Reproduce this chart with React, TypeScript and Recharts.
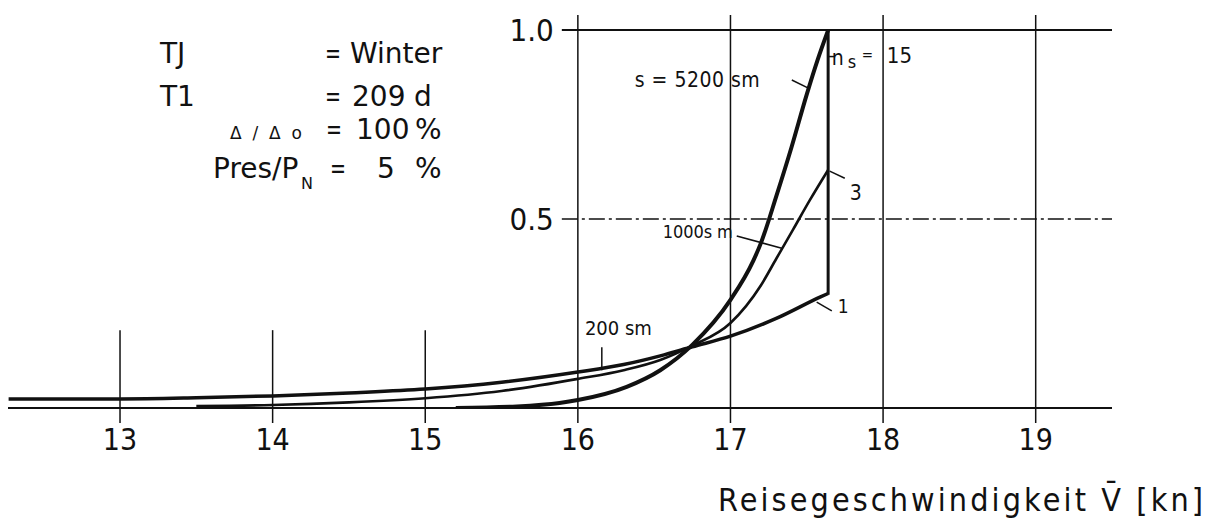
import React from 'react';
import { LineChart, Line, XAxis, YAxis, ReferenceLine, ReferenceDot } from 'recharts';

const FONT = "'Liberation Sans Narrow', 'DejaVu Sans Condensed', 'Arial Narrow', sans-serif";
const INFO_FONT = "'DejaVu Sans', sans-serif";
const INK = '#111';

// axis ticks / grid
const xTicks = [13, 14, 15, 16, 17, 18, 19];
const fullGridX = [16, 17, 18, 19];
const shortGridX = [13, 14, 15];
const yTicks = [1.0, 0.5];
const yTickLabels = ['1.0', '0.5'];

// s = 200 sm (n_s = 1)
const s200X = [12.27, 13, 13.5, 14, 14.5, 15, 15.5, 16, 16.3, 16.54, 16.75, 17, 17.3, 17.59, 17.64];
const s200Y = [0.024, 0.024, 0.027, 0.032, 0.04, 0.05, 0.068, 0.095, 0.115, 0.138, 0.162, 0.19, 0.237, 0.294, 0.303];

// s = 1000 sm (n_s = 3)
const s1000X = [13.5, 14, 14.5, 15, 15.5, 16, 16.3, 16.54, 16.75, 17, 17.2, 17.3, 17.41, 17.52, 17.64];
const s1000Y = [0.005, 0.008, 0.015, 0.026, 0.045, 0.077, 0.1, 0.127, 0.165, 0.225, 0.325, 0.395, 0.472, 0.55, 0.63];

// s = 5200 sm (n_s = 15)
const s5200X = [15.2, 15.6, 15.88, 16, 16.32, 16.54, 16.75, 17, 17.15, 17.2, 17.3, 17.4, 17.5, 17.57, 17.64];
const s5200Y = [0.0, 0.004, 0.013, 0.021, 0.056, 0.1, 0.167, 0.286, 0.39, 0.437, 0.56, 0.69, 0.83, 0.92, 1.0];

// vertical limit line at max speed
const limitX = [17.64, 17.64];
const limitY = [0.3, 1.0];

const toData = (xs: number[], ys: number[]) => xs.map((x, i) => ({ x, y: ys[i] }));

// leader lines [x1, y1, x2, y2]
const leaders: number[][] = [
  [17.402, 0.868, 17.507, 0.847],
  [17.645, 0.93, 17.68, 0.93],
  [17.65, 0.627, 17.749, 0.608],
  [17.041, 0.455, 17.336, 0.423],
  [16.157, 0.161, 16.157, 0.1],
  [17.565, 0.28, 17.664, 0.257],
];

// curve annotations
const annotations = [
  { x: 16.373, y: 0.849, text: 's = 5200 sm', size: 21, width: 125 },
  { x: 17.782, y: 0.55, text: '3', size: 21, width: 0 },
  { x: 16.557, y: 0.45, text: '1000s m', size: 18, width: 70 },
  { x: 16.046, y: 0.193, text: '200 sm', size: 20, width: 67 },
  { x: 17.703, y: 0.252, text: '1', size: 19, width: 0 },
];
const nsLabel = { x: 17.664, y: 0.907 };

const AnnoShape = (a: any) => (p: any) => (
  <text
    x={p.cx}
    y={p.cy}
    fontFamily={FONT}
    fontSize={a.size}
    fill={INK}
    {...(a.width ? { textLength: a.width, lengthAdjust: 'spacing' } : {})}
  >
    {a.text}
  </text>
);

const NsShape = (p: any) => (
  <g fontFamily={FONT} fill={INK}>
    <text x={p.cx} y={p.cy} fontSize={21}>n</text>
    <text x={p.cx + 16} y={p.cy + 3} fontSize={18}>s</text>
    <text x={p.cx + 30} y={p.cy - 5} fontSize={15}>=</text>
    <text x={p.cx + 55} y={p.cy - 2} fontSize={22}>15</text>
  </g>
);

export default function App() {
  return (
    <div style={{ position: 'absolute', left: 0, top: 0, width: 1209, height: 524, background: '#fff' }}>
      <LineChart width={1209} height={524} margin={{ top: 15, right: 97, bottom: 86, left: 8 }}>
        <XAxis
          dataKey="x"
          type="number"
          domain={[12.266, 19.5]}
          ticks={xTicks}
          allowDataOverflow
          height={30}
          axisLine={{ stroke: INK, strokeWidth: 2 }}
          tickLine={{ stroke: INK, strokeWidth: 1.5 }}
          tickSize={15}
          tickMargin={6}
          tick={{ fill: INK, fontSize: 30, fontFamily: FONT }}
        />
        <YAxis hide type="number" domain={[0, 1.04]} allowDataOverflow />

        {fullGridX.map((v) => (
          <ReferenceLine key={'fx' + v} x={v} stroke={INK} strokeWidth={1.5} />
        ))}
        {shortGridX.map((v) => (
          <ReferenceLine key={'sx' + v} segment={[{ x: v, y: 0 }, { x: v, y: 0.206 }]} stroke={INK} strokeWidth={1.5} />
        ))}
        {yTicks.map((v, i) => (
          <ReferenceLine
            key={'y' + v}
            segment={[{ x: 15.895, y: v }, { x: 19.5, y: v }]}
            stroke={INK}
            strokeWidth={v === 1 ? 2 : 1.5}
            strokeDasharray={v === 1 ? undefined : '16 4 3 4'}
            label={{ value: yTickLabels[i], position: 'left', offset: 8, fill: INK, fontSize: 31, fontFamily: FONT }}
          />
        ))}

        <Line data={toData(s200X, s200Y)} dataKey="y" type="monotone" stroke={INK} strokeWidth={3.5} dot={false} isAnimationActive={false} />
        <Line data={toData(s1000X, s1000Y)} dataKey="y" type="monotone" stroke={INK} strokeWidth={2.6} dot={false} isAnimationActive={false} />
        <Line data={toData(s5200X, s5200Y)} dataKey="y" type="monotone" stroke={INK} strokeWidth={4} dot={false} isAnimationActive={false} />
        <Line data={toData(limitX, limitY)} dataKey="y" type="linear" stroke={INK} strokeWidth={3} dot={false} isAnimationActive={false} />

        {leaders.map((l, i) => (
          <ReferenceLine key={'l' + i} segment={[{ x: l[0], y: l[1] }, { x: l[2], y: l[3] }]} stroke={INK} strokeWidth={1.5} />
        ))}
        {annotations.map((a, i) => (
          <ReferenceDot key={'a' + i} x={a.x} y={a.y} r={0} shape={AnnoShape(a)} />
        ))}
        <ReferenceDot x={nsLabel.x} y={nsLabel.y} r={0} shape={NsShape} />
      </LineChart>

      <svg
        width={1209}
        height={524}
        style={{ position: 'absolute', left: 0, top: 0, pointerEvents: 'none' }}
        fontFamily={INFO_FONT}
        fill={INK}
      >
        <text x={160} y={63} fontSize={28}>TJ</text>
        <text x={325} y={63} fontSize={28} textLength={16} lengthAdjust="spacingAndGlyphs">=</text>
        <text x={350} y={63} fontSize={28}>Winter</text>

        <text x={160} y={106} fontSize={28}>T1</text>
        <text x={325} y={106} fontSize={28} textLength={16} lengthAdjust="spacingAndGlyphs">=</text>
        <text x={352} y={106} fontSize={28}>209</text>
        <text x={414} y={106} fontSize={28}>d</text>

        <text x={230} y={139} fontSize={17} textLength={72} lengthAdjust="spacing">Δ / Δ o</text>
        <text x={326} y={139} fontSize={28} textLength={16} lengthAdjust="spacingAndGlyphs">=</text>
        <text x={356} y={139} fontSize={28}>100</text>
        <text x={415} y={139} fontSize={28}>%</text>

        <text x={213} y={178} fontSize={28}>Pres/P</text>
        <text x={301} y={189} fontSize={16}>N</text>
        <text x={330} y={178} fontSize={28} textLength={16} lengthAdjust="spacingAndGlyphs">=</text>
        <text x={377} y={178} fontSize={28}>5</text>
        <text x={415} y={178} fontSize={28}>%</text>

        <text x={718} y={511} fontSize={32} fontFamily={FONT} textLength={485} lengthAdjust="spacing">Reisegeschwindigkeit V̄ [kn]</text>
      </svg>
    </div>
  );
}
